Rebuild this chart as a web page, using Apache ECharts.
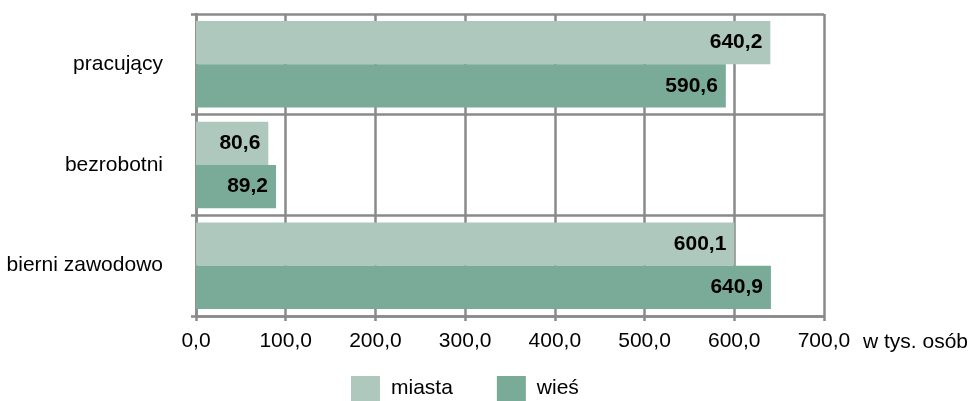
<!DOCTYPE html>
<html>
<head>
<meta charset="utf-8">
<script src="https://cdn.jsdelivr.net/npm/echarts@6/dist/echarts.min.js"></script>
<style>
  html, body { margin: 0; padding: 0; background: #fff; }
  #chart { width: 971px; height: 401px; }
</style>
</head>
<body>
<div id="chart"></div>
<script>
  // kategorie i wartości (w tys. osób)
  var categories = ['pracujący', 'bezrobotni', 'bierni zawodowo']
  var miasta = [640.2, 80.6, 600.1]
  var wies = [590.6, 89.2, 640.9]
  var xTicks = [0, 100, 200, 300, 400, 500, 600, 700]

  var gridColor = '#8a8a8a'
  var font = 'Liberation Sans, Arial, sans-serif'

  function fmt(v) {
    return Number(v).toFixed(1).replace('.', ',')
  }

  var chart = echarts.init(document.getElementById('chart'))
  chart.setOption({
    animation: false,
    grid: {
      left: 196,
      right: 147,
      top: 14,
      bottom: 85
    },
    legend: {
      data: ['miasta', 'wieś'],
      left: 351,
      top: 376,
      padding: 0,
      itemWidth: 29,
      itemHeight: 25,
      itemGap: 44,
      icon: 'rect',
      textStyle: {
        fontFamily: font,
        fontSize: 21,
        color: '#000',
        padding: [0, 0, 0, 6]
      }
    },
    xAxis: {
      type: 'value',
      min: xTicks[0],
      max: xTicks[xTicks.length - 1],
      interval: 100,
      name: 'w tys. osób',
      nameLocation: 'end',
      nameGap: 39,
      nameTextStyle: {
        fontFamily: font,
        fontSize: 21,
        color: '#000',
        verticalAlign: 'top',
        padding: [16, 0, 0, 0]
      },
      axisLine: { show: true, lineStyle: { color: gridColor, width: 2.5 } },
      axisTick: { show: true, length: 5, lineStyle: { color: gridColor, width: 2.5 } },
      axisLabel: {
        margin: 15,
        fontFamily: font,
        fontSize: 21,
        color: '#000',
        formatter: fmt
      },
      splitLine: { show: true, lineStyle: { color: gridColor, width: 2.5 } }
    },
    yAxis: {
      type: 'category',
      data: categories,
      inverse: true,
      axisLine: { show: true, lineStyle: { color: gridColor, width: 2.5 } },
      axisTick: { show: true, length: 5, lineStyle: { color: gridColor, width: 2.5 } },
      axisLabel: {
        margin: 33,
        fontFamily: font,
        fontSize: 21,
        color: '#000',
        padding: [6, 0, 0, 0]
      },
      splitLine: { show: true, lineStyle: { color: gridColor, width: 2.5 } }
    },
    series: [
      {
        name: 'miasta',
        type: 'bar',
        data: miasta,
        barGap: 0,
        barCategoryGap: '14%',
        itemStyle: { color: '#aec8be' },
        label: {
          show: true,
          position: 'insideRight',
          distance: 8,
          fontFamily: font,
          fontSize: 21,
          fontWeight: 'bold',
          color: '#000',
          formatter: function(p) { return fmt(p.value) }
        }
      },
      {
        name: 'wieś',
        type: 'bar',
        data: wies,
        barGap: 0,
        barCategoryGap: '14%',
        itemStyle: { color: '#7aaa98' },
        label: {
          show: true,
          position: 'insideRight',
          distance: 8,
          fontFamily: font,
          fontSize: 21,
          fontWeight: 'bold',
          color: '#000',
          formatter: function(p) { return fmt(p.value) }
        }
      }
    ]
  })
</script>
</body>
</html>
